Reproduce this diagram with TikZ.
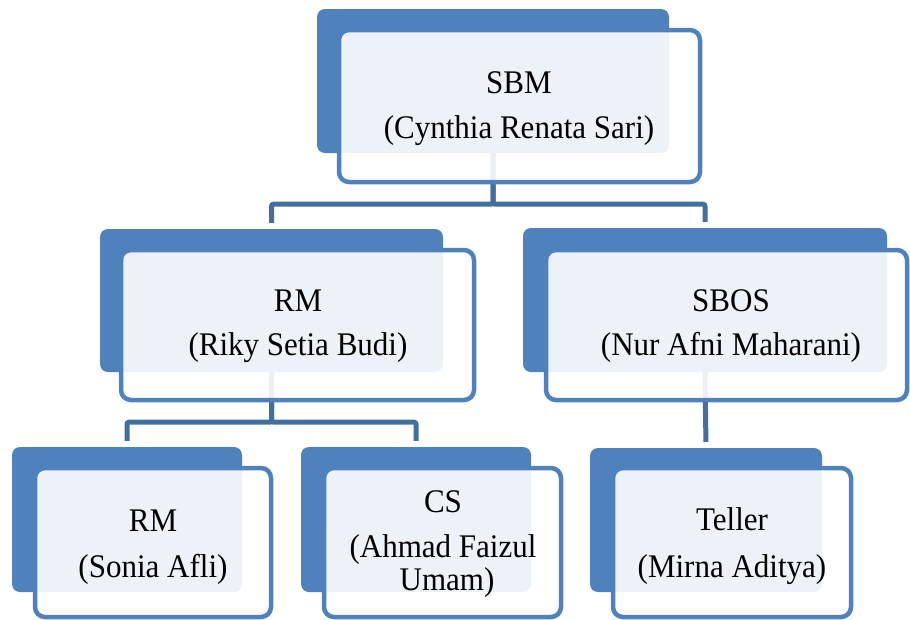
\documentclass[tikz,border=0pt]{standalone}
\usepackage{fontspec}
\setmainfont{Liberation Serif}[FakeStretch=0.94]
\definecolor{accent}{HTML}{4F81BD}
\definecolor{linkc}{HTML}{41709F}
\newcommand\backbx[5]{\node[backbox, minimum width=#4-#2, minimum height=#5-#3] (#1) at ({(#2+#4)/2},{(#3+#5)/2}) {};}
\newcommand\frontbx[5]{\node[frontbox, minimum width=#4-#2, minimum height=#5-#3] (#1) at ({(#2+#4)/2},{(#3+#5)/2}) {};}
\begin{document}
\begin{tikzpicture}[x=1pt,y=-1pt,
  backbox/.style={fill=accent, rounded corners=8pt, inner sep=0pt},
  frontbox/.style={draw=accent, line width=4.5pt, fill=white, fill opacity=0.9, rounded corners=10pt, inner sep=0pt},
  link/.style={draw=linkc, line width=5pt, rounded corners=2pt, shorten >=6pt},
  txt/.style={anchor=base, inner sep=0pt, font=\fontsize{33}{38}\selectfont, text=black}]
\useasboundingbox (0,0) rectangle (910,619);
% back boxes
\backbx{sbmb}{317}{9}{669}{153}
\backbx{rmab}{100}{229}{443}{372}
\backbx{sbosb}{523}{228}{887}{372}
\backbx{rmbb}{12}{447}{242}{592}
\backbx{csb}{301}{447}{531}{592}
\backbx{tellb}{590}{448}{822}{592}
% connectors
\draw[link] (sbmb.south) -- ++(0,51) -| (rmab.north);
\draw[link] (sbmb.south) -- ++(0,51) -| (sbosb.north);
\draw[link] (rmab.south) -- ++(0,50) -| (rmbb.north);
\draw[link] (rmab.south) -- ++(0,50) -| (csb.north);
\draw[link] (sbosb.south) -- (tellb.north);
% front boxes
\frontbx{sbm}{339}{30}{700}{182}
\frontbx{rma}{121}{250}{474}{400}
\frontbx{sbos}{546}{250}{907}{400}
\frontbx{rmb}{35}{468}{271}{617}
\frontbx{cs}{324}{468}{561}{617}
\frontbx{tell}{613}{468}{851}{617}
% texts
\node[txt] (sbm1) at (519,93) {SBM};
\node[txt] (sbm2) at (519,138) {(Cynthia Renata Sari)};
\node[txt] (rma1) at (298,311) {RM};
\node[txt] (rma2) at (298,355) {(Riky Setia Budi)};
\node[txt] (sbos1) at (731,311) {SBOS};
\node[txt] (sbos2) at (731,355) {(Nur Afni Maharani)};
\node[txt] (rmb1) at (153,531) {RM};
\node[txt] (rmb2) at (153,577) {(Sonia Afli)};
\node[txt] (cs1) at (443,512) {CS};
\node[txt] (cs2) at (443,557) {(Ahmad Faizul};
\node[txt] (cs3) at (447,590) {Umam)};
\node[txt] (tell1) at (732,530) {Teller};
\node[txt] (tell2) at (732,577) {(Mirna Aditya)};
\end{tikzpicture}
\end{document}
